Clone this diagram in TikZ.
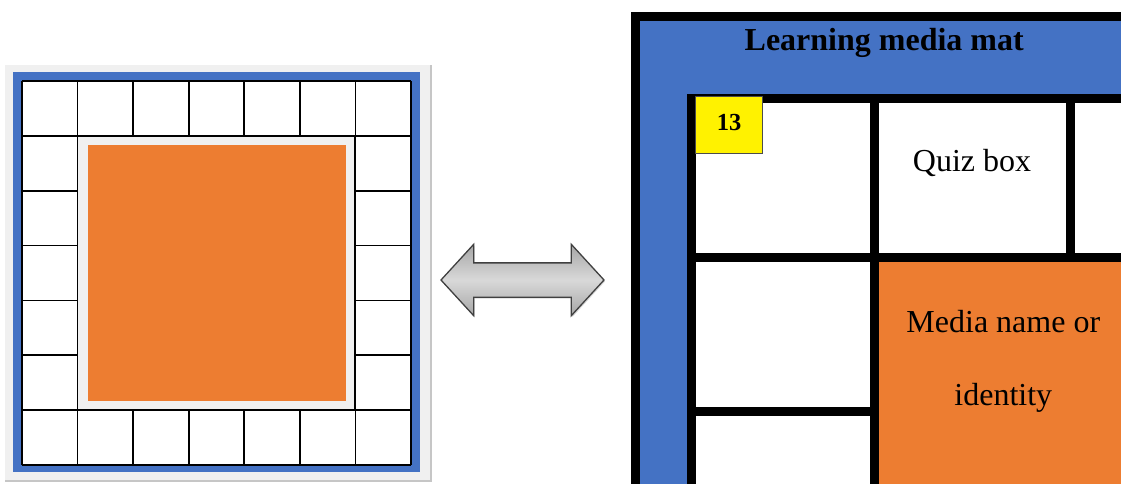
\documentclass[tikz,border=0pt]{standalone}
\usepackage{fontspec}
\setmainfont{Liberation Serif}
\usetikzlibrary{shapes.arrows,shadows}

\definecolor{matblue}{HTML}{4472C4}
\definecolor{matorange}{HTML}{ED7D31}
\definecolor{framegray}{HTML}{F0F0F0}

\tikzset{
  gridline/.style={line width=1.8pt,black},
  matline/.style={line width=9pt,black},
  matlabel/.style={font=\fontsize{32}{73}\selectfont,inner sep=0pt},
  mattitle/.style={font=\fontsize{32}{38}\selectfont\bfseries,inner sep=0pt},
}

\begin{document}
\begin{tikzpicture}[x=1pt,y=-1pt]
  \useasboundingbox (0,0) rectangle (1121,483);
  \clip (0,0) rectangle (1121,483);

  % Board frame
  \fill[framegray] (5,65) rectangle (431,481);
  \draw[gray!45,line width=1.2pt] (431,65) -- (431,481) -- (5,481);
  \fill[matblue] (13,72) rectangle (420,472);

  % Board grid
  \fill[white] (22,81) rectangle (411,465);
  \foreach \i in {0,...,7} {
    \draw[gridline] (22+\i*55.57,81) -- (22+\i*55.57,465);
    \draw[gridline] (22,81+\i*54.86) -- (411,81+\i*54.86);
  }

  % Board centre
  \filldraw[gridline,fill=framegray] (77.57,135.86) rectangle (355.29,410.14);
  \node[fill=matorange,minimum width=258pt,minimum height=256pt,inner sep=0pt]
    (centre) at (217,273) {};

  % Double arrow
  \node[double arrow,draw=gray!50!black,line width=1.3pt,
        top color=gray!70,bottom color=gray!70,middle color=gray!30,
        minimum height=163pt,inner sep=0pt,text height=33pt,text depth=0pt,
        double arrow head extend=18.5pt,double arrow tip angle=95,
        drop shadow={shadow xshift=1pt,shadow yshift=-1.5pt,opacity=.3}]
    (link) at (522.5,280) {};

  % Mat background
  \fill[matblue] (635.5,16.5) rectangle (1130,490);
  \fill[white] (691.5,98.5) rectangle (1130,490);
  \fill[matorange] (874.5,257) rectangle (1130,490);

  % Mat lines
  \draw[matline] (635.5,490) |- (1130,16.5);
  \draw[matline] (691.5,490) |- (1130,98.5);
  \draw[matline] (691.5,257) -- (1130,257);
  \draw[matline] (874.5,98.5) -- (874.5,490);
  \draw[matline] (1070.5,98.5) -- (1070.5,257);
  \draw[matline] (691.5,411) -- (874.5,411);

  % Mat labels
  \node[mattitle,anchor=base] (title) at (884.2,50.7) {Learning media mat};
  \node[draw=gray!60!black,fill=yellow,minimum width=67pt,minimum height=57pt,
        inner sep=0pt,text height=17.4pt,text depth=6pt,
        font=\fontsize{24.5}{28}\selectfont\bfseries]
    (num) at (729,125) {13};
  \node[matlabel,anchor=base] (quiz) at (972,171) {Quiz box};
  \node[matlabel,align=center,anchor=base] (media) at (1003.3,405)
    {Media name or\\identity};
\end{tikzpicture}
\end{document}
